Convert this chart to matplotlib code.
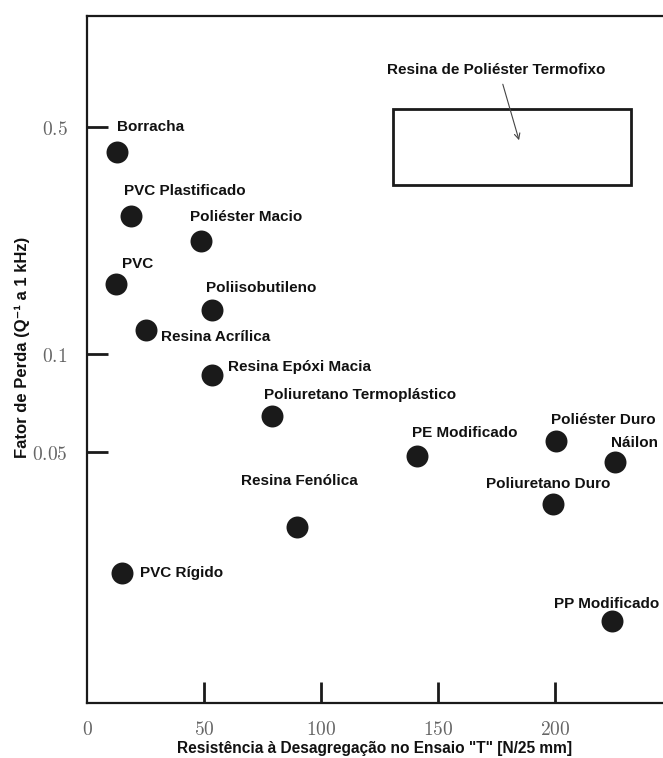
import matplotlib
matplotlib.use("Agg")
import matplotlib.pyplot as plt
from matplotlib.ticker import NullLocator, FixedLocator
from matplotlib.patches import Rectangle

plt.rcParams['mathtext.fontset'] = 'cm'

# ---- data ----
materials = ["Borracha", "PVC Plastificado", "Poliéster Macio", "PVC", "Poliisobutileno",
             "Resina Acrílica", "Resina Epóxi Macia", "Poliuretano Termoplástico",
             "Resina Fenólica", "PVC Rígido", "PE Modificado", "Poliéster Duro",
             "Náilon", "Poliuretano Duro", "PP Modificado"]
peel_strength = [12.9, 18.7, 48.6, 12.4, 53.4, 25.1, 53.4, 79.1, 89.7, 15.0, 141.0,
                 200.4, 225.6, 199.1, 224.4]
loss_factor = [0.42, 0.267, 0.223, 0.165, 0.137, 0.119, 0.0863, 0.0645, 0.0294,
               0.0212, 0.0486, 0.054, 0.0466, 0.0346, 0.0151]

box_label = "Resina de Poliéster Termofixo"
box_x = [130.8, 232.5]
box_y = [0.332, 0.568]

x_ticks = [0, 50, 100, 150, 200]
y_ticks = [0.05, 0.1, 0.5]
y_tick_labels = ["0.05", "0.1", "0.5"]

# label offsets in pixels (style)
offsets = {
    "Borracha": (0, 25), "PVC Plastificado": (-7, 25), "Poliéster Macio": (-11, 24),
    "PVC": (6, 20), "Poliisobutileno": (-6, 22), "Resina Acrílica": (15, -7),
    "Resina Epóxi Macia": (16, 8), "Poliuretano Termoplástico": (-8, 21),
    "Resina Fenólica": (-56, 46), "PVC Rígido": (18, 0), "PE Modificado": (-5, 23),
    "Poliéster Duro": (-5, 21), "Náilon": (-4, 19), "Poliuretano Duro": (-67, 20),
    "PP Modificado": (-58, 17),
}

W, H = 663, 758
fig = plt.figure(figsize=(W / 100, H / 100), dpi=100)
ax = fig.add_axes([87 / W, 1 - 703 / H, (W - 87) / W, (703 - 16) / H])
ax.set_yscale('log')
ax.set_xlim(0, 246.2)
ax.set_ylim(0.00846, 1.098)

ink = '#1a1a1a'
for s in ['left', 'bottom', 'top']:
    ax.spines[s].set_linewidth(1.6)
    ax.spines[s].set_color(ink)
ax.spines['right'].set_visible(False)

ax.scatter(peel_strength, loss_factor, s=250, color=ink, zorder=3, linewidths=0)

fam = ['Liberation Sans', 'DejaVu Sans']
lab_font = dict(family=fam, fontweight='bold', fontsize=11, color='#111111')
for name, xv, yv in zip(materials, peel_strength, loss_factor):
    dx, dy = offsets[name]
    ax.annotate(name, (xv, yv), xytext=(dx, dy), textcoords='offset pixels',
                ha='left', va='center', **lab_font)

rect = Rectangle((box_x[0], box_y[0]), box_x[1] - box_x[0], box_y[1] - box_y[0],
                 fill=False, edgecolor=ink, linewidth=2.0, zorder=2)
ax.add_patch(rect)
ax.text(175, 0.749, box_label, ha='center', va='center', **lab_font)
ax.annotate('', xy=(185, 0.447), xytext=(177.4, 0.69),
            arrowprops=dict(arrowstyle='->', color='#444444', lw=0.8))

ax.xaxis.set_major_locator(FixedLocator(x_ticks))
ax.set_xticklabels([f"${t}$" for t in x_ticks])
ax.yaxis.set_major_locator(FixedLocator(y_ticks))
ax.yaxis.set_minor_locator(NullLocator())
ax.set_yticklabels([f"${t}$" for t in y_tick_labels])
ax.tick_params(axis='both', direction='in', length=15, width=2, color=ink,
               labelsize=14, labelcolor='#666666')
ax.tick_params(axis='x', pad=12)
ax.tick_params(axis='y', pad=14)
ax.xaxis.get_major_ticks()[0].tick1line.set_visible(False)

ax.set_xlabel('Resistência à Desagregação no Ensaio "T" [N/25 mm]',
              family=fam, fontweight='bold', fontsize=11.2,
              color='#111111', labelpad=2)
fig.text(22 / W, 1 - 347 / H, 'Fator de Perda (Q⁻¹ a 1 kHz)', rotation=90,
         ha='center', va='center', family=fam, fontweight='bold', fontsize=12,
         color='#111111')

fig.savefig('out.png', dpi=100)
